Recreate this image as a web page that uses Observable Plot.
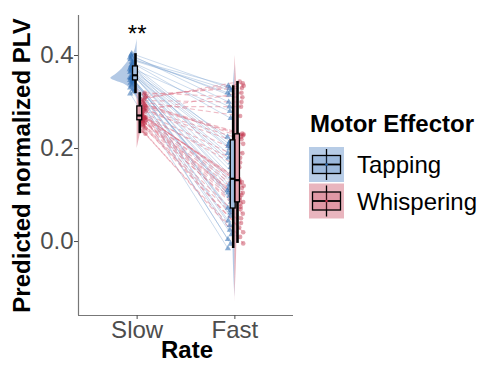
<!DOCTYPE html>
<html>
<head>
<meta charset="utf-8">
<script src="https://cdn.jsdelivr.net/npm/d3@7"></script>
<script src="https://cdn.jsdelivr.net/npm/@observablehq/plot@0.6"></script>
<style>
  html, body { margin: 0; padding: 0; background: #fff; }
  #wrap { position: relative; width: 485px; height: 365px; font-family: "Liberation Sans", Arial, Helvetica, sans-serif; }
</style>
</head>
<body>
<div id="wrap"></div>
<script>
// ---- data ----
const rates = ["Slow", "Fast"];
const effectors = ["Tapping", "Whispering"];
const yTicks = [0.0, 0.2, 0.4];

const tapSlow = [0.356, 0.372, 0.341, 0.389, 0.350, 0.364, 0.327, 0.398, 0.353, 0.345, 0.378, 0.360, 0.335, 0.392, 0.348, 0.366, 0.318, 0.383, 0.352, 0.370, 0.342, 0.401, 0.357, 0.338, 0.374, 0.349, 0.386, 0.331, 0.362, 0.354, 0.395, 0.344, 0.368, 0.322, 0.380, 0.351, 0.358, 0.404, 0.347, 0.376];
const tapFast = [0.125, 0.28, 0.045, 0.325, 0.098, 0.19, -0.005, 0.315, 0.11, 0.062, 0.21, 0.15, 0.025, 0.335, 0.085, 0.20, -0.015, 0.265, 0.122, 0.225, 0.055, 0.30, 0.13, 0.035, 0.205, 0.092, 0.29, 0.005, 0.17, 0.115, 0.32, 0.068, 0.18, 0.015, 0.215, 0.105, 0.14, 0.33, 0.072, 0.16];
const whSlow = [0.272, 0.290, 0.255, 0.306, 0.264, 0.280, 0.238, 0.316, 0.267, 0.259, 0.294, 0.276, 0.247, 0.309, 0.262, 0.284, 0.232, 0.300, 0.268, 0.288, 0.253, 0.320, 0.270, 0.250, 0.292, 0.263, 0.303, 0.243, 0.278, 0.265, 0.312, 0.260, 0.286, 0.257, 0.297, 0.266, 0.274, 0.282, 0.261, 0.269];
const whFast = [0.13, 0.29, 0.06, 0.344, 0.10, 0.21, 0.01, 0.33, 0.12, 0.075, 0.232, 0.16, 0.04, 0.34, 0.09, 0.22, -0.004, 0.27, 0.128, 0.23, 0.07, 0.31, 0.134, 0.05, 0.228, 0.095, 0.30, 0.02, 0.18, 0.115, 0.335, 0.082, 0.19, 0.03, 0.225, 0.105, 0.125, 0.32, 0.085, 0.17];

// violin profiles (value, relative density)
const vTapSlowY = [0.435, 0.415, 0.404, 0.393, 0.382, 0.371, 0.361, 0.355, 0.35, 0.345, 0.339, 0.333, 0.328, 0.322, 0.3175, 0.31];
const vTapSlowD = [0, 1.5, 3.3, 7, 10.7, 15, 20, 24, 28, 21, 13, 9, 7, 4, 2, 0];
const vWhSlowY = [0.335, 0.32, 0.305, 0.29, 0.275, 0.265, 0.255, 0.24, 0.225, 0.21, 0.2];
const vWhSlowD = [0, 2, 4, 6, 8, 8, 6, 4, 2.5, 1, 0];
const vTapFastY = [0.38, 0.34, 0.3, 0.25, 0.2, 0.15, 0.1, 0.05, 0.0, -0.05, -0.1, -0.12];
const vTapFastD = [0, 1.5, 2, 2.5, 2.5, 2.5, 2.5, 2.5, 2, 1.5, 0.5, 0];
const vWhFastY = [0.4, 0.36, 0.3, 0.25, 0.2, 0.15, 0.1, 0.05, 0.0, -0.05, -0.1, -0.13];
const vWhFastD = [0, 1.5, 2, 2.5, 2.5, 2.5, 2.5, 2.5, 2, 1.5, 0.5, 0];

const sigLabel = "**";
const xTitle = "Rate";
const yTitle = "Predicted normalized PLV";
const legendTitle = "Motor Effector";

// ---- styling ----
const col = {Tapping: "#4a7fc0", Whispering: "#c8455d"};
const ptCol = {Tapping: "#2f6db3", Whispering: "#c0304a"};
const lineCol = {Tapping: "#7fa5d3", Whispering: "#e07a8e"};
const dodge = {Tapping: -0.017, Whispering: 0.027};
const pxPerUnit = 97.7;
const font = "Liberation Sans, Arial, Helvetica, sans-serif";

// ---- build tables ----
const subjects = [];
tapSlow.forEach((v, i) => subjects.push({eff: "Tapping", i, slow: v, fast: tapFast[i]}));
whSlow.forEach((v, i) => subjects.push({eff: "Whispering", i, slow: v, fast: whFast[i]}));
const jit = i => ((i * 37) % 11) / 10;
subjects.forEach(s => {
  const j = jit(s.i);
  const off = s.eff === "Tapping" ? -(0.035 + j * 0.04) : (0.045 + j * 0.045);
  s.xs = 1 + off; s.xf = 2 + off;
});
const points = subjects.flatMap(s => [
  {eff: s.eff, x: s.xs, y: s.slow},
  {eff: s.eff, x: s.xf, y: s.fast}
]);

function violin(ys, ds, center, side, eff) {
  return ys.map((y, k) => ({eff, y, x1: side < 0 ? center - ds[k] / pxPerUnit : center, x2: side < 0 ? center : center + ds[k] / pxPerUnit}));
}
const violins = [
  violin(vTapSlowY, vTapSlowD, 1, -1, "Tapping"),
  violin(vWhSlowY, vWhSlowD, 1, 1, "Whispering"),
  violin(vTapFastY, vTapFastD, 2, -1, "Tapping"),
  violin(vWhFastY, vWhFastD, 2, 1, "Whispering")
];

function stats(vals, xc, eff) {
  const s = vals.slice().sort(d3.ascending);
  const q1 = d3.quantile(s, 0.25), med = d3.quantile(s, 0.5), q3 = d3.quantile(s, 0.75);
  const iqr = q3 - q1;
  const lo = d3.min(s.filter(v => v >= q1 - 1.5 * iqr));
  const hi = d3.max(s.filter(v => v <= q3 + 1.5 * iqr));
  return {eff, x: xc + dodge[eff], q1, med, q3, lo, hi};
}
const boxes = [
  stats(tapSlow, 1, "Tapping"), stats(whSlow, 1, "Whispering"),
  stats(tapFast, 2, "Tapping"), stats(whFast, 2, "Whispering")
];
const bw = 0.025;

const chart = Plot.plot({
  width: 485, height: 365,
  marginLeft: 78, marginRight: 192, marginTop: 15, marginBottom: 50,
  style: {fontFamily: font, background: "transparent", overflow: "visible"},
  x: {domain: [0.4, 2.6], axis: null},
  y: {domain: [-0.159, 0.486], axis: null},
  marks: [
    ...violins.map(v => Plot.areaX(v, {y: "y", x1: "x1", x2: "x2", fill: d => col[d.eff], fillOpacity: 0.42, curve: "basis"})),
    Plot.link(subjects.filter(s => s.eff === "Tapping"), {x1: "xs", y1: "slow", x2: "xf", y2: "fast", stroke: lineCol.Tapping, strokeOpacity: 0.5, strokeWidth: 0.8}),
    Plot.link(subjects.filter(s => s.eff === "Whispering"), {x1: "xs", y1: "slow", x2: "xf", y2: "fast", stroke: lineCol.Whispering, strokeOpacity: 0.5, strokeWidth: 1.1, strokeDasharray: "5,3"}),
    Plot.dot(points.filter(p => p.eff === "Tapping"), {x: "x", y: "y", symbol: "triangle", r: 2.3, fill: ptCol.Tapping, fillOpacity: 0.55, stroke: "none"}),
    Plot.dot(points.filter(p => p.eff === "Whispering"), {x: "x", y: "y", r: 2.3, fill: ptCol.Whispering, fillOpacity: 0.45, stroke: "none"}),
    Plot.ruleX(boxes, {x: "x", y1: "lo", y2: "hi", stroke: "black", strokeWidth: 2.6}),
    Plot.rect(boxes, {x1: d => d.x - bw, x2: d => d.x + bw, y1: "q1", y2: "q3", fill: "white"}),
    Plot.rect(boxes, {x1: d => d.x - bw, x2: d => d.x + bw, y1: "q1", y2: "q3", fill: d => col[d.eff], fillOpacity: 0.5, stroke: "black", strokeWidth: 1.3}),
    Plot.ruleY(boxes, {y: "med", x1: d => d.x - bw, x2: d => d.x + bw, stroke: "black", strokeWidth: 2.2}),
    Plot.text([sigLabel], {x: 1, y: 0.43, text: d => d, fontSize: 24, fill: "black", textAnchor: "middle", lineAnchor: "bottom"}),
    // axes
    Plot.ruleX([0.4], {stroke: "#777", strokeWidth: 1.2}),
    Plot.ruleY([-0.159], {stroke: "#777", strokeWidth: 1.2}),
    Plot.axisY({ticks: yTicks, tickFormat: d3.format(".1f"), tickSize: 4, tickPadding: 1, fontSize: 24, color: "#4d4d4d", label: null}),
    Plot.axisX({ticks: [1, 2], tickFormat: d => rates[d - 1], tickSize: 4, tickPadding: 1, fontSize: 24, color: "#4d4d4d", label: null}),
    Plot.text([xTitle], {frameAnchor: "bottom", dx: 1, dy: 42, fontSize: 24, fontWeight: "bold", fill: "black", text: d => d, textAnchor: "middle", lineAnchor: "bottom"}),
    Plot.text([yTitle], {frameAnchor: "left", dx: -56, rotate: -90, fontSize: 24, fontWeight: "bold", fill: "black", text: d => d, textAnchor: "middle", lineAnchor: "middle"})
  ]
});

const wrap = document.getElementById("wrap");
wrap.appendChild(chart);

// ---- legend ----
const leg = d3.create("svg").attr("width", 485).attr("height", 365)
  .style("position", "absolute").style("left", "0px").style("top", "0px").style("font-family", font);
leg.append("text").attr("x", 310).attr("y", 132).attr("font-size", 24).attr("font-weight", "bold").attr("fill", "black").text(legendTitle);
effectors.forEach((e, k) => {
  const y0 = 147 + k * 36.5, x0 = 309, s = 35;
  const g = leg.append("g");
  g.append("rect").attr("x", x0).attr("y", y0).attr("width", s).attr("height", s).attr("fill", col[e]).attr("fill-opacity", 0.4);
  g.append("line").attr("x1", x0 + s/2).attr("x2", x0 + s/2).attr("y1", y0 + 2).attr("y2", y0 + s - 2).attr("stroke", "black").attr("stroke-width", 1.3);
  g.append("rect").attr("x", x0 + 3.5).attr("y", y0 + 8.5).attr("width", s - 7).attr("height", s - 17).attr("fill", col[e]).attr("fill-opacity", 0.25).attr("stroke", "black").attr("stroke-width", 1.3);
  g.append("line").attr("x1", x0 + 3.5).attr("x2", x0 + s - 3.5).attr("y1", y0 + s/2).attr("y2", y0 + s/2).attr("stroke", "black").attr("stroke-width", 1.8);
  g.append("circle").attr("cx", x0 + s/2).attr("cy", y0 + s/2).attr("r", 1.3).attr("fill", ptCol[e]);
  leg.append("text").attr("x", 357).attr("y", y0 + 26).attr("font-size", 24).attr("fill", "black").text(e);
});
wrap.appendChild(leg.node());
</script>
</body>
</html>
